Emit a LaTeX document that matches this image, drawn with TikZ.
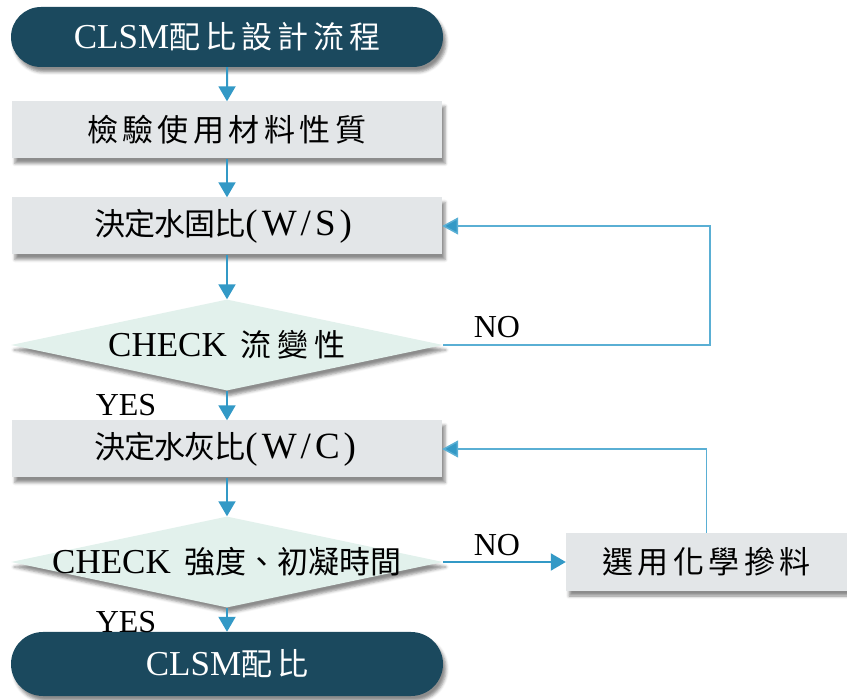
\documentclass[tikz,border=0pt]{standalone}
\usepackage{fontspec}
\usepackage{graphicx}
\setmainfont{Liberation Serif}
\newfontfamily\cjk{Noto Sans CJK TC}
\usetikzlibrary{shapes.geometric,shapes.misc,shadows.blur,arrows.meta}
\definecolor{termfill}{HTML}{1B495E}
\definecolor{boxfill}{HTML}{E3E6E8}
\definecolor{diafill}{HTML}{E2F1EC}
\definecolor{arrowc}{HTML}{3399C6}
\definecolor{backc}{HTML}{5AAFD4}
\newcommand\spaced[2]{\def\spcamt{#1}\spfirst#2\relax}
\def\spfirst#1{#1\sploop}
\def\sploop#1{\ifx#1\relax\else\hspace{\spcamt}#1\expandafter\sploop\fi}
\newcommand\cj[2]{{\cjk\fontsize{31}{34}\selectfont\spaced{#1}{#2}}}
\newcommand\la[1]{{\fontsize{35}{38}\selectfont #1}}
\newcommand\lb[2]{{\fontsize{37}{40}\selectfont\spaced{#1}{#2}}}
\tikzset{
  shd/.style={blur shadow={shadow xshift=3pt, shadow yshift=-5pt, shadow blur radius=3pt, shadow opacity=45}},
  term/.style={rounded rectangle, fill=termfill, text=white, minimum width=432pt, minimum height=60pt, inner sep=0pt, shd},
  box/.style={rectangle, fill=boxfill, minimum width=430pt, minimum height=57pt, inner sep=0pt, shd},
  dia/.style={diamond, fill=diafill, minimum width=432pt, minimum height=91pt, inner sep=0pt, shd},
  lbl/.style={inner sep=0pt, font=\fontsize{32}{34}\selectfont},
  flow/.style={draw=arrowc, line width=2pt, -{Triangle[width=17pt,length=15pt]}},
  back/.style={draw=backc, line width=1.5pt, -{Triangle[width=17pt,length=16pt,fill=arrowc]}}
}
\begin{document}
\begin{tikzpicture}[x=1pt,y=-1pt]
\useasboundingbox (0,0) rectangle (847,700);
\node[term] (top) at (227,37) {\la{CLSM}\cj{5pt}{配比設計流程}};
\node[box, text width=280pt, align=left] (b1) at (227,130) {\cj{4.5pt}{檢驗使用材料性質}};
\node[box, text width=265pt, align=left] (b2) at (227,226) {\cj{-1pt}{決定水固比}\lb{4pt}{(W/S)}};
\node[dia] (d1) at (227,345) {};
\node[inner sep=0pt] (t1) at (d1.center) {\la{CHECK}\hspace{14pt}\cj{6pt}{流變性}};
\node[box, text width=265pt, align=left] (b3) at (227,449) {\cj{-1pt}{決定水灰比}\lb{4pt}{(W/C)}};
\node[dia] (d2) at (227,562) {};
\node[inner sep=0pt] (t2) at (d2.center) {\la{CHECK}\hspace{14pt}\cj{0pt}{強度、初凝時間}};
\node[box, minimum width=281pt, minimum height=58pt] (b4) at (706.5,562) {\cj{4.5pt}{選用化學摻料}};
\node[term, minimum height=64pt] (bot) at (227,664) {\la{CLSM}\cj{5pt}{配比}};
\node[lbl] (yes1) at (126,405) {YES};
\node[lbl] (yes2) at (126,622) {YES};
\node[lbl] (no1) at (497,327) {NO};
\node[lbl] (no2) at (497,545) {NO};
\coordinate (c1) at (710,345);
\draw[flow] (top) -- (b1);
\draw[flow] (b1) -- (b2);
\draw[flow] (b2) -- (d1);
\draw[flow] (d1) -- (b3);
\draw[flow] (b3) -- (d2);
\draw[flow] (d2) -- (bot);
\draw[flow] (d2.east) -- (b4.west);
\draw[back] (d1.east) -- (c1) |- (b2.east);
\draw[back] (b4.north) |- (b3.east);
\end{tikzpicture}
\end{document}
